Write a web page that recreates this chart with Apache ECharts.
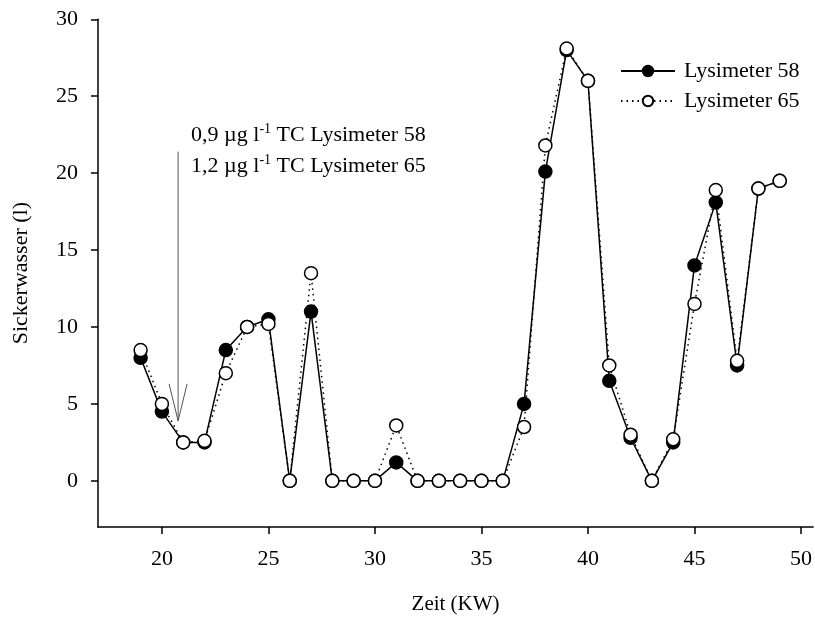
<!DOCTYPE html>
<html><head><meta charset="utf-8">
<script src="https://cdn.jsdelivr.net/npm/echarts@6/dist/echarts.min.js"></script>
<style>html,body{margin:0;padding:0;background:#fff}#c{width:815px;height:620px}</style>
</head><body><div id="c"></div>
<script>
const weeks = [19,20,21,22,23,24,25,26,27,28,29,30,31,32,33,34,35,36,37,38,39,40,41,42,43,44,45,46,47,48,49];
const lys58 = [8.0,4.5,2.5,2.5,8.5,10.0,10.5,0,11.0,0,0,0,1.2,0,0,0,0,0,5.0,20.1,28.0,26.0,6.5,2.8,0,2.5,14.0,18.1,7.5,19.0,19.5];
const lys65 = [8.5,5.0,2.5,2.6,7.0,10.0,10.2,0,13.5,0,0,0,3.6,0,0,0,0,0,3.5,21.8,28.1,26.0,7.5,3.0,0,2.7,11.5,18.9,7.8,19.0,19.5];
const xTicks = [20,25,30,35,40,45,50];
const yTicks = [0,5,10,15,20,25,30];
const annotLines = ['0,9 µg l{sup|-1} TC Lysimeter 58','1,2 µg l{sup|-1} TC Lysimeter 65'];
const annotTextX = 21.37;
const annotTextY = [22.45, 20.45];
const arrowX = 20.76;
const arrowTop = 21.4;
const arrowTip = 3.9;

const FONT = '"Liberation Serif", "Times New Roman", serif';
const chart = echarts.init(document.getElementById('c'), null, {renderer:'canvas'});
const pair = (xs, ys) => xs.map((x,i)=>[x, ys[i]]);
chart.setOption({
  animation:false,
  backgroundColor:'#fff',
  textStyle:{fontFamily:FONT, color:'#000'},
  grid:{left:98, right:0, top:19.3, bottom:92.7, containLabel:false},
  legend:{
    left:615, top:55, orient:'vertical', itemWidth:54, itemHeight:13, itemGap:8,
    textStyle:{fontFamily:FONT, fontSize:22, color:'#000', padding:[0,0,0,4]},
    data:['Lysimeter 58','Lysimeter 65']
  },
  xAxis:{
    type:'value', min:17, max:50.57,
    name:'Zeit (KW)', nameLocation:'middle', nameGap:67,
    nameTextStyle:{fontFamily:FONT, fontSize:21, color:'#000'},
    axisLine:{show:true, onZero:false, lineStyle:{color:'#000', width:1.5}},
    axisTick:{show:true, length:7, inside:false, lineStyle:{color:'#000', width:1.5}, customValues:xTicks},
    axisLabel:{fontFamily:FONT, fontSize:22, color:'#000', margin:21, customValues:xTicks},
    splitLine:{show:false}
  },
  yAxis:{
    type:'value', min:-3, max:30,
    name:'Sickerwasser (l)', nameLocation:'middle', nameGap:66, nameRotate:90,
    nameTextStyle:{fontFamily:FONT, fontSize:22, color:'#000'},
    axisLine:{show:true, onZero:false, lineStyle:{color:'#000', width:1.5}},
    axisTick:{show:true, length:7, inside:false, lineStyle:{color:'#000', width:1.5}, customValues:yTicks},
    axisLabel:{fontFamily:FONT, fontSize:22, color:'#000', margin:20, customValues:yTicks},
    splitLine:{show:false}
  },
  series:[
    {name:'Lysimeter 58', type:'line', data:pair(weeks, lys58), symbol:'circle', symbolSize:13,
     lineStyle:{color:'#000', width:1.5, type:'solid'},
     itemStyle:{color:'#000', borderColor:'#000', borderWidth:1.5}, z:2},
    {name:'Lysimeter 65', type:'line', data:pair(weeks, lys65), symbol:'circle', symbolSize:13,
     lineStyle:{color:'#000', width:1.5, type:[1.5,4]},
     itemStyle:{color:'#fff', borderColor:'#000', borderWidth:1.5}, z:3}
  ]
});

function drawAnnot(){
  const top = chart.convertToPixel({gridIndex:0}, [arrowX, arrowTop]);
  const tip = chart.convertToPixel({gridIndex:0}, [arrowX, arrowTip]);
  const g = [];
  g.push({type:'line', shape:{x1:top[0], y1:top[1], x2:tip[0], y2:tip[1]}, style:{stroke:'#555', lineWidth:1}, z:10});
  g.push({type:'polyline', shape:{points:[[tip[0]-9, tip[1]-37],[tip[0], tip[1]],[tip[0]+9, tip[1]-37]]}, style:{stroke:'#555', fill:null, lineWidth:1}, z:10});
  annotLines.forEach((t,i)=>{
    const p = chart.convertToPixel({gridIndex:0}, [annotTextX, annotTextY[i]]);
    g.push({type:'text', x:p[0], y:p[1], z:10, style:{
      text:t, fontFamily:FONT, fontSize:22, fill:'#000', verticalAlign:'middle', align:'left',
      rich:{sup:{fontFamily:FONT, fontSize:14, fill:'#000', verticalAlign:'top', padding:[0,0,12,0]}}
    }});
  });
  chart.setOption({graphic:g});
}
drawAnnot();
</script></body></html>
